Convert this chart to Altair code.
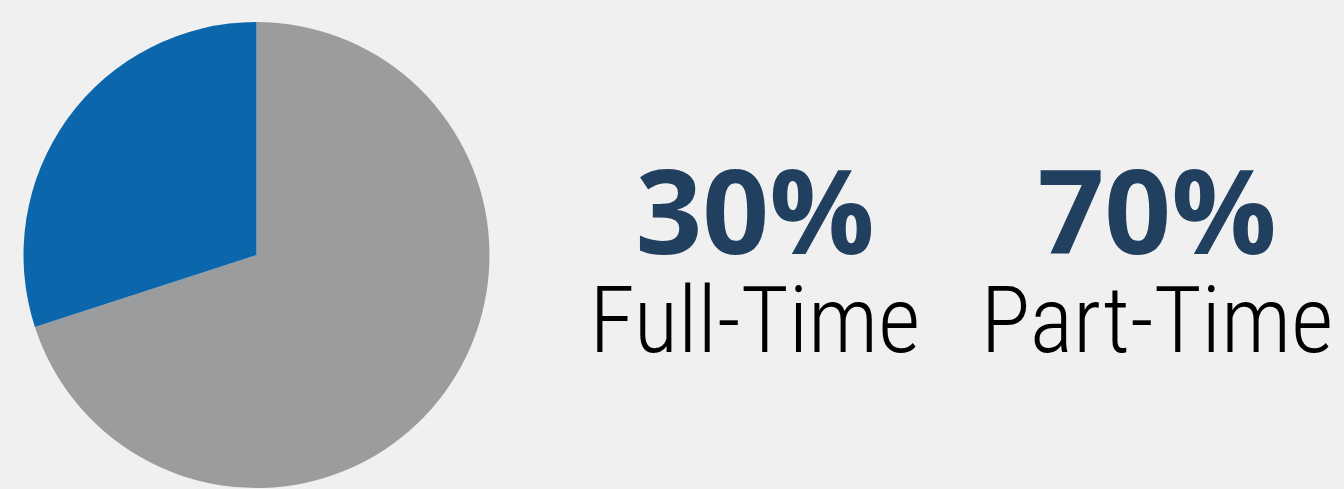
import altair as alt
import pandas as pd

# Data
categories = ["Part-Time", "Full-Time"]
values = [70, 30]
slice_order = [0, 1]
colors = ["#9b9c9e", "#0b66ab"]

label_names = ["Full-Time", "Part-Time"]
label_pcts = ["30%", "70%"]

pie_df = pd.DataFrame({"category": categories, "value": values, "order": slice_order})
text_df = pd.DataFrame({"name": label_names, "pct": label_pcts})

W, H = 1344, 489

pie = alt.Chart(pie_df).mark_arc(radius=233, stroke=None).encode(
    theta=alt.Theta("value:Q", stack=True),
    order=alt.Order("order:Q"),
    color=alt.Color("category:N", scale=alt.Scale(domain=categories, range=colors), legend=None),
    x=alt.value(256.5),
    y=alt.value(255),
)

xscale = alt.Scale(type="point", domain=label_names, range=[755, 1157], padding=0)

pct_text = alt.Chart(text_df).mark_text(
    font="Open Sans", fontWeight="bold", fontSize=117, color="#21405f",
    align="center", baseline="alphabetic",
).encode(
    x=alt.X("name:N", scale=xscale, axis=None),
    y=alt.value(254),
    text="pct:N",
)

name_text = alt.Chart(text_df).mark_text(
    font="Roboto Condensed", fontWeight=300, fontSize=92, color="#000000",
    align="center", baseline="alphabetic",
).encode(
    x=alt.X("name:N", scale=xscale, axis=None),
    y=alt.value(352),
    text="name:N",
)

chart = alt.layer(pie, pct_text, name_text).properties(
    width=W, height=H, padding=0, autosize=alt.AutoSizeParams(type="none"),
    background="#f0f0f0",
).configure_view(stroke=None)

chart.save("out.html", embed_options={"renderer": "svg", "actions": False})
